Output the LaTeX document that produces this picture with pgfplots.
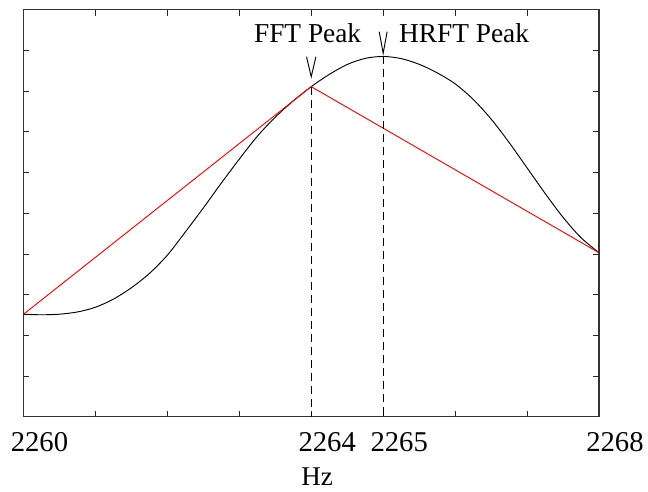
\documentclass[border=0pt]{standalone}
\usepackage{fontspec}
\setmainfont{Liberation Serif}
\usepackage{pgfplots}
\pgfplotsset{compat=1.18}
\begin{document}
\begin{tikzpicture}
\useasboundingbox (-17.6pt,-55.7pt) rectangle (468.35pt,312.55pt);
\begin{axis}[
  at={(0,0)}, anchor=south west,
  scale only axis,
  width=431.6pt, height=305.25pt,
  xmin=2260, xmax=2268, ymin=0, ymax=10,
  xtick={2260,2261,...,2268},
  xticklabels={2260,,,,2264,2265,,,2268},
  ytick={1,2,...,9},
  yticklabels={},
  tick align=inside,
  major tick length=4.5pt,
  tick style={line width=0.6pt, black!85},
  axis line style={line width=0.8pt, black!80},
  /pgf/number format/assume math mode=true,
  xticklabel style={font=\fontsize{21.5}{24}\selectfont, inner sep=0pt, anchor=north, yshift=-11.25pt, xshift=12pt},
  xlabel={Hz},
  xlabel style={at={(axis description cs:0.5,0)}, anchor=north, inner sep=0pt, yshift=-38pt, xshift=4.5pt, font=\fontsize{20.3}{24}\selectfont},
  clip=false,
]
% HRFT interpolated spectrum
\addplot[black, line width=0.7pt, smooth, tension=0.5] coordinates {
(2260.00,2.518) (2260.25,2.506) (2260.50,2.520) (2260.75,2.575) (2261.00,2.690)
(2261.25,2.890) (2261.50,3.170) (2261.75,3.520) (2262.00,3.970) (2262.25,4.540)
(2262.50,5.130) (2262.75,5.740) (2263.00,6.330) (2263.25,6.890) (2263.50,7.360)
(2263.75,7.760) (2264.00,8.110) (2264.25,8.410) (2264.50,8.655) (2264.75,8.805)
(2265.00,8.852) (2265.25,8.800) (2265.50,8.660) (2265.75,8.450) (2266.00,8.180)
(2266.25,7.800) (2266.50,7.315) (2266.75,6.740) (2267.00,6.115) (2267.25,5.490)
(2267.50,4.900) (2267.75,4.400) (2268.00,4.030)
};
% FFT bins
\addplot[red, line width=0.7pt] coordinates {(2260,2.518) (2264,8.110) (2268,4.030)};
% dashed peak markers
\addplot[black, line width=0.7pt, dash pattern=on 6pt off 3.75pt] coordinates {(2264,8.110) (2264,0)};
\addplot[black, line width=0.7pt, dash pattern=on 6pt off 3.75pt] coordinates {(2265,8.852) (2265,0)};
% V pointers
\addplot[black, line width=0.7pt] coordinates {(2263.935,8.845) (2264,8.354) (2264.065,8.845)};
\addplot[black, line width=0.7pt] coordinates {(2264.945,9.46) (2265,8.93) (2265.055,9.46)};
\node[anchor=base, inner sep=0pt, font=\fontsize{20.5}{24}\selectfont] at (axis cs:2263.95,9.196) {FFT Peak};
\node[anchor=base, inner sep=0pt, font=\fontsize{20.5}{24}\selectfont] at (axis cs:2266.125,9.196) {HRFT Peak};
\end{axis}
\end{tikzpicture}
\end{document}
